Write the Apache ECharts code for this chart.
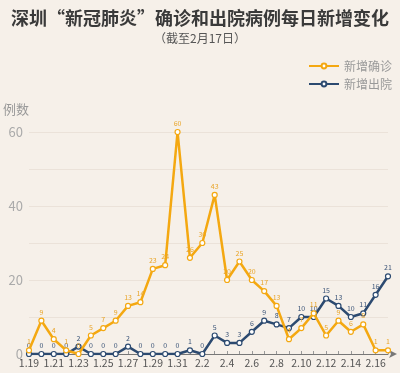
<!DOCTYPE html>
<html><head><meta charset="utf-8">
<script src="https://cdn.jsdelivr.net/npm/echarts@6/dist/echarts.min.js"></script>
<style>html,body{margin:0;padding:0;background:#F6F0E9;}#c{width:400px;height:373px;}</style>
</head><body><div id="c"></div>
<script>
var categories = ['1.19','1.20','1.21','1.22','1.23','1.24','1.25','1.26','1.27','1.28','1.29','1.30','1.31','2.1','2.2','2.3','2.4','2.5','2.6','2.7','2.8','2.9','2.10','2.11','2.12','2.13','2.14','2.15','2.16','2.17'];
var confirmed = [1,9,4,1,0,5,7,9,13,14,23,24,60,26,30,43,20,25,20,17,13,4,7,11,5,9,6,8,1,1];
var discharged = [0,0,0,0,2,0,0,0,2,0,0,0,0,1,0,5,3,3,6,9,8,7,10,10,15,13,10,11,16,21];
var yTicks = [0,20,40,60];
var FONT = '"Noto Sans CJK SC", "Noto Sans", sans-serif';
var chart = echarts.init(document.getElementById('c'));
chart.setOption({
  backgroundColor: '#F6F0E9',
  textStyle: {fontFamily: FONT},
  title: [{
    text: '深圳“新冠肺炎”确诊和出院病例每日新增变化',
    left: 'center', top: 4,
    textStyle: {fontSize: 18, fontWeight: 'bold', color: '#3a3a3a', fontFamily: FONT}
  },{
    text: '（截至2月17日）',
    left: 'center', top: 27,
    textStyle: {fontSize: 12, fontWeight: 'normal', color: '#555', fontFamily: FONT}
  }],
  legend: {
    orient: 'vertical', left: 303, top: 55, itemWidth: 30, itemHeight: 6, itemGap: 6,
    textStyle: {fontSize: 12, color: '#999', fontFamily: FONT},
    data: ['新增确诊','新增出院']
  },
  grid: {left: 27, right: 12, top: 132, bottom: 19},
  xAxis: {
    type: 'category', data: categories, boundaryGap: false,
    axisLine: {lineStyle: {color: '#777', width: 1}, symbol: ['none','arrow'], symbolSize: [6,8], symbolOffset: [0, 9]},
    axisTick: {show: true, inside: true, length: 3, interval: 0, lineStyle: {color: '#999'}},
    axisLabel: {interval: 1, fontSize: 10.5, color: '#555', margin: 4, fontFamily: FONT}
  },
  yAxis: {
    type: 'value', min: 0, max: 60, interval: 10,
    name: '例数', nameLocation: 'end', nameGap: 16,
    nameTextStyle: {fontSize: 13, color: '#999', align: 'right', fontFamily: FONT},
    axisLine: {show: false}, axisTick: {show: false},
    axisLabel: {fontSize: 13, color: '#aaa', margin: 6, formatter: function(v){ return yTicks.indexOf(v) >= 0 ? v : ''; }},
    splitLine: {lineStyle: {color: '#EBE2D9', width: 1}}
  },
  series: [{
    name: '新增确诊', type: 'line', data: confirmed,
    symbol: 'circle', symbolSize: 5, showAllSymbol: true,
    lineStyle: {color: '#F4A811', width: 2.5},
    itemStyle: {color: '#fff', borderColor: '#F4A811', borderWidth: 1.2},
    label: {show: true, position: 'top', distance: 2, fontSize: 7, color: '#E9A52A'},
    z: 3
  },{
    name: '新增出院', type: 'line', data: discharged,
    symbol: 'circle', symbolSize: 5, showAllSymbol: true,
    lineStyle: {color: '#2C4A70', width: 2.5},
    itemStyle: {color: '#fff', borderColor: '#2C4A70', borderWidth: 1.2},
    label: {show: true, position: 'top', distance: 2, fontSize: 7, color: '#3C5578'},
    z: 2
  }]
});
</script></body></html>
